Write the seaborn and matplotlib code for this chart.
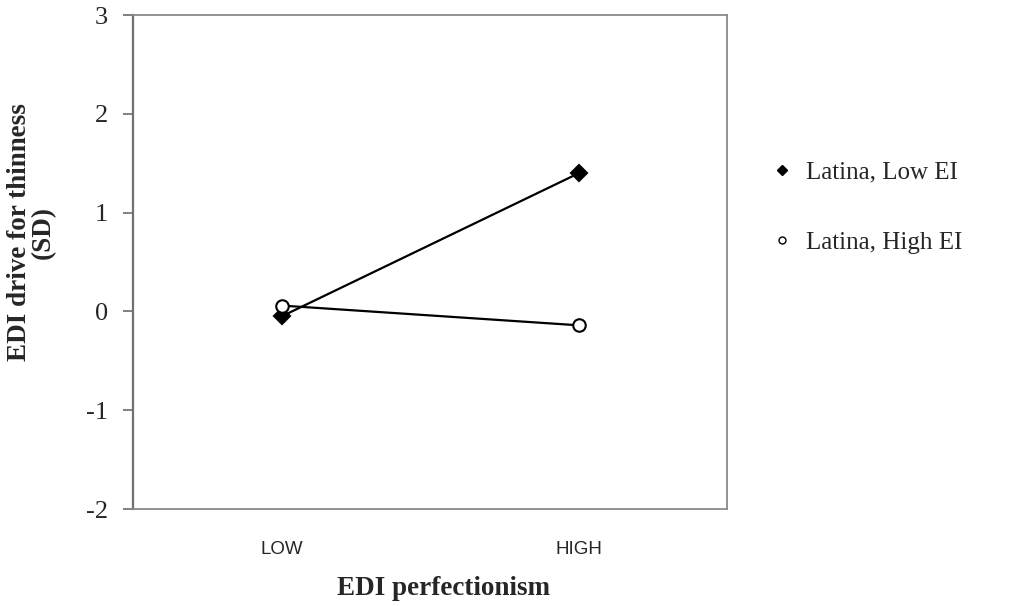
import matplotlib
matplotlib.use("Agg")
import matplotlib.pyplot as plt
import seaborn as sns
import pandas as pd
from matplotlib.lines import Line2D

# data
levels = ["LOW", "HIGH"]
low_ei = [-0.05, 1.40]
high_ei = [0.06, -0.14]
series_names = ["Latina, Low EI", "Latina, High EI"]

df = pd.DataFrame({
    "perfectionism": levels * 2,
    "value": low_ei + high_ei,
    "group": [series_names[0]] * 2 + [series_names[1]] * 2,
})

sns.set_style("white")
plt.rcParams["font.family"] = ["Liberation Serif", "DejaVu Serif"]

fig = plt.figure(figsize=(10.23, 6.06), dpi=100)
ax = fig.add_axes([0.130, 0.160, 0.581, 0.815])

styles = {
    series_names[0]: dict(marker="D", markerfacecolor="black", markersize=8),
    series_names[1]: dict(marker="o", markerfacecolor="white", markersize=9),
}
for name in series_names:
    sub = df[df["group"] == name]
    sns.lineplot(data=sub, x="perfectionism", y="value", ax=ax, color="black",
                 linewidth=1.6, markeredgecolor="black", markeredgewidth=1.5,
                 **styles[name])

ax.set_xlim(-0.5, 1.5)
ax.set_ylim(-2, 3)
ax.set_yticks([-2, -1, 0, 1, 2, 3])
ax.set_yticklabels(["-2", "-1", "0", "1", "2", "3"], fontsize=19,
                   family="Liberation Serif")
ax.set_xticks([0, 1])
ax.set_xticklabels(levels, fontsize=13.5, family="Liberation Sans")
ax.tick_params(axis="x", length=0, pad=23)
ax.tick_params(axis="y", length=7, width=1.3, color="#777777", pad=11, left=True)

for side, sp in ax.spines.items():
    sp.set_visible(True)
    sp.set_color("#8a8a8a")
    sp.set_linewidth(1.3)
ax.spines["left"].set_color("#707070")
ax.spines["left"].set_linewidth(1.6)

ax.set_xlabel("EDI perfectionism", fontsize=19.5, fontweight="bold")
ax.set_ylabel("EDI drive for thinness\n(SD)", fontsize=19.5, fontweight="bold",
              linespacing=0.95)
ax.xaxis.set_label_coords(0.522, -0.135)
ax.yaxis.set_label_coords(-0.13, 0.56)

handles = [
    Line2D([], [], linestyle="none", marker="D", color="black",
           markerfacecolor="black", markersize=5),
    Line2D([], [], linestyle="none", marker="o", color="black",
           markerfacecolor="white", markersize=5, markeredgewidth=1),
]
fig.legend(handles, series_names, loc="center left",
           bbox_to_anchor=(0.74, 0.658), frameon=False, fontsize=18,
           handlelength=1.0, handletextpad=0.45, labelspacing=1.9, borderpad=0)

fig.savefig("out.png", dpi=100, facecolor="white")
